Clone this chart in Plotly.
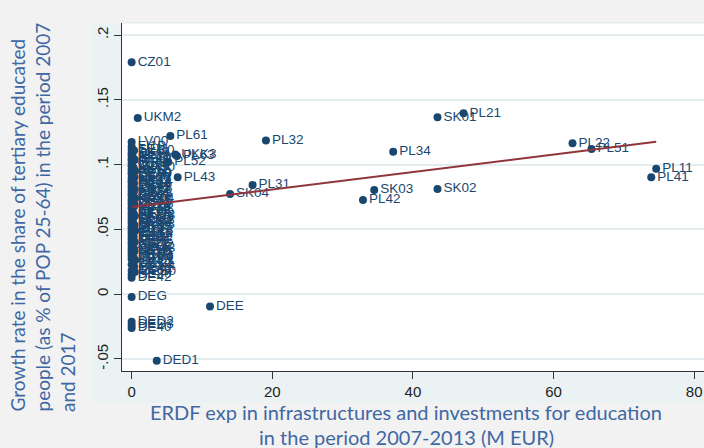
import plotly.graph_objects as go

# NUTS-2 regions: ERDF expenditure on education infrastructure 2007-2013 (M EUR)
# against growth in the share of tertiary educated people (POP 25-64), 2007-2017
regions = [
    "CZ01", "UKM2", "PL61", "LV00", "PL32", "PL34", "SK01", "PL21", "PL22", "PL51",
    "PL11", "PL41", "SK02", "SK03", "PL42", "PL31", "SK04", "PL43", "PL63", "UKK3",
    "PL52", "DEE", "DED1", "DEG", "DED2", "DED3", "DE40",
    # regions with little or no ERDF education spending
    "FI1B", "SE11", "DK01", "NL32", "BE10", "AT13", "LU00", "IE02", "UKI1", "FR10",
    "DE30", "DE21", "SE22", "NL41", "DK04", "FI1C", "AT22", "BE21", "UKJ1", "FR71",
    "DE11", "DE71", "NL33", "SE12", "AT31", "BE24", "UKD3", "FR82", "DE12", "DK03",
    "FI19", "IE01", "UKE4", "FR62", "DEA2", "NL22", "AT21", "BE23", "UKH1", "FR30",
    "DEB3", "DE94", "DE50", "DE60", "DE80", "DE42",
    "HU10", "PT11", "ES61", "ITF3", "GR30", "SI02", "EE00", "LT00", "HU21", "PT16",
    "ES42", "ITG1", "CZ02", "CZ03", "CZ04", "CZ05", "CZ06", "CZ07", "CZ08", "HU22",
    "HU23", "HU31", "HU32", "HU33", "PT17", "PT18", "ES11", "ES12", "ITF4", "ITF6",
    "GR12", "GR43", "SI01", "MT00", "CY00", "UKL1", "UKL2", "UKK4", "DE41", "DEE0",
]

erdf_meur = [
    0.0, 0.87, 5.5, 0.0, 19.1, 37.2, 43.5, 47.2, 62.7, 65.4,
    74.6, 73.9, 43.5, 34.5, 32.9, 17.2, 14.0, 6.55, 6.45, 6.2,
    5.2, 11.15, 3.57, 0.0, 0.0, 0.0, 0.0,
    0.0, 0.0, 0.0, 0.0, 0.0, 0.0, 0.0, 0.0, 0.0, 0.0,
    0.0, 0.0, 0.0, 0.0, 0.0, 0.0, 0.0, 0.0, 0.0, 0.0,
    0.0, 0.0, 0.0, 0.0, 0.0, 0.0, 0.0, 0.0, 0.0, 0.0,
    0.0, 0.0, 0.0, 0.0, 0.0, 0.0, 0.0, 0.0, 0.0, 0.0,
    0.0, 0.0, 0.0, 0.0, 0.0, 0.0,
    0.35, 0.15, 0.45, 0.1, 0.3, 0.5, 0.2, 0.4, 0.15, 0.35,
    0.1, 0.45, 0.3, 0.2, 0.5, 0.15, 0.4, 0.35, 0.1, 0.3,
    0.45, 0.2, 0.15, 0.4, 0.35, 0.5, 0.1, 0.3, 0.2, 0.45,
    0.15, 0.35, 0.4, 0.1, 0.3, 0.5, 0.2, 0.35, 0.15, 0.45,
]

growth_rate = [
    0.179, 0.136, 0.122, 0.1174, 0.1187, 0.110, 0.1365, 0.1396, 0.1164, 0.112,
    0.0968, 0.0902, 0.0812, 0.0804, 0.0727, 0.0843, 0.0773, 0.0902, 0.1066, 0.1078,
    0.102, -0.0096, -0.0513, -0.0022, -0.0212, -0.0238, -0.0262,
    0.114, 0.1115, 0.109, 0.1072, 0.1048, 0.1031, 0.1006, 0.0987, 0.0962, 0.0941,
    0.0925, 0.0899, 0.0878, 0.0861, 0.0836, 0.0818, 0.0795, 0.0773, 0.0757, 0.0731,
    0.0712, 0.0694, 0.0669, 0.0652, 0.0628, 0.0611, 0.0587, 0.0566, 0.0549, 0.0524,
    0.0506, 0.0483, 0.0465, 0.0441, 0.0422, 0.0398, 0.0381, 0.0357, 0.0338, 0.0316,
    0.0294, 0.0271, 0.0229, 0.0181, 0.0152, 0.0126,
    0.1108, 0.1063, 0.1037, 0.1012, 0.0974, 0.0951, 0.0928, 0.0903, 0.0884, 0.0857,
    0.0832, 0.0809, 0.0786, 0.0764, 0.0741, 0.0717, 0.0692, 0.0676, 0.0648, 0.0621,
    0.0603, 0.0577, 0.0552, 0.0534, 0.0512, 0.0489, 0.0467, 0.0446, 0.0421, 0.0402,
    0.0378, 0.0351, 0.0332, 0.0305, 0.0283, 0.0262, 0.0244, 0.0213, 0.0196, 0.0172,
]

# Linear fit of growth rate on ERDF expenditure
fit_intercept = 0.0672
fit_slope = 0.000677

x_ticks = [0, 20, 40, 60, 80]
y_ticks = [-0.05, 0, 0.05, 0.1, 0.15, 0.2]
y_tick_text = ["-.05", "0", ".05", ".1", ".15", ".2"]

NAVY = "#1a476f"
MAROON = "#90353b"
TITLE_BLUE = "#3f68a3"
REGION_BG = "#eaf2f3"

fig = go.Figure()

fig.add_trace(go.Scatter(
    x=erdf_meur, y=growth_rate, text=regions,
    mode="markers+text", textposition="middle right",
    marker=dict(color=NAVY, size=8, line=dict(width=0)),
    textfont=dict(family="Liberation Sans, Arial", size=13.5, color=NAVY),
    hoverinfo="text", showlegend=False,
))

x_lo, x_hi = min(erdf_meur), max(erdf_meur)
fig.add_trace(go.Scatter(
    x=[x_lo, x_hi],
    y=[fit_intercept + fit_slope * x_lo, fit_intercept + fit_slope * x_hi],
    mode="lines", line=dict(color=MAROON, width=2),
    hoverinfo="skip", showlegend=False,
))

# plot frame in pixels
W, H = 704, 448
L, R, T, B = 122, 0, 23, 77
pw, ph = W - L - R, H - T - B


def px(xp):
    return (xp - L) / pw


def py(yp):
    return (H - B - yp) / ph


shapes = [
    dict(type="rect", xref="paper", yref="paper", layer="below",
         x0=px(92), x1=0, y0=py(403), y1=1,
         fillcolor=REGION_BG, line=dict(width=0)),
    dict(type="rect", xref="paper", yref="paper", layer="below",
         x0=0, x1=1, y0=py(403), y1=0,
         fillcolor=REGION_BG, line=dict(width=0)),
    dict(type="line", xref="paper", yref="paper", layer="above",
         x0=0, x1=1, y0=1, y1=1, line=dict(color="#dde8eb", width=1)),
]

y_title_font = dict(family="Lato, Open Sans", size=19, color=TITLE_BLUE)
x_title_font = dict(family="Lato, Open Sans", size=20, color=TITLE_BLUE)
y_title_lines = [
    "Growth rate in the share of tertiary educated",
    "people (as % of POP 25-64) in the period 2007",
    "and 2017",
]
annotations = []
for xc, line in zip([17, 42, 67], y_title_lines):
    annotations.append(dict(
        text=line, xref="paper", yref="paper", x=px(xc), y=py(414),
        xanchor="center", yanchor="bottom", textangle=-90,
        showarrow=False, font=y_title_font,
    ))
for yc, line in zip([412, 437], [
    "ERDF exp in infrastructures and investments for education",
    "in the period 2007-2013 (M EUR)",
]):
    annotations.append(dict(
        text=line, xref="paper", yref="paper", x=px(406), y=py(yc),
        xanchor="center", yanchor="middle",
        showarrow=False, font=x_title_font,
    ))

tick_font = dict(family="Liberation Sans, Arial", size=15, color="#222222")

fig.update_layout(
    width=W, height=H,
    margin=dict(l=L, r=R, t=T, b=B, pad=0),
    paper_bgcolor="#f2f2f2", plot_bgcolor="white",
    shapes=shapes, annotations=annotations,
    xaxis=dict(
        range=[-1.37, 81.4], tickvals=x_ticks, ticks="outside", ticklen=7,
        tickcolor="#333333", showline=True, linecolor="#333333", linewidth=1,
        showgrid=False, zeroline=False, tickfont=tick_font,
    ),
    yaxis=dict(
        range=[-0.0593, 0.2093], tickvals=y_ticks, ticktext=y_tick_text,
        tickangle=-90, ticks="outside", ticklen=7, tickcolor="#333333",
        showline=True, linecolor="#333333", linewidth=1,
        showgrid=True, gridcolor="#e3edf0", gridwidth=2, zeroline=False,
        tickfont=tick_font,
    ),
)

fig.write_html("out.html")
